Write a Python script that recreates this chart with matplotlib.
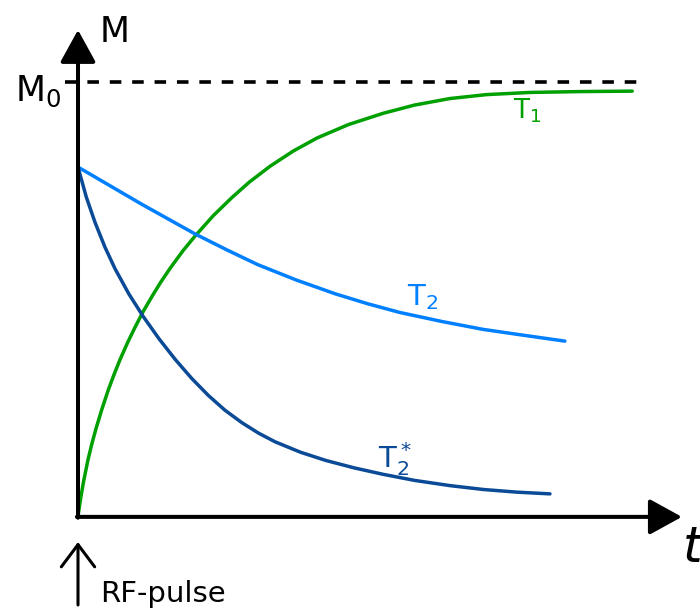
import matplotlib.pyplot as plt
import numpy as np

plt.rcParams['mathtext.fontset'] = 'dejavusans'
plt.rcParams['font.family'] = 'DejaVu Sans'

# relaxation curves, M in units of M0, time in arbitrary units
t_T1 = [0.00, 0.05, 0.10, 0.18, 0.25, 0.33, 0.43, 0.55, 0.65, 0.76, 0.90, 1.03,
        1.18, 1.35, 1.50, 1.67, 1.90, 2.12, 2.45, 2.79, 3.10, 3.48, 3.90, 4.33,
        4.90, 5.53, 6.10, 6.74, 7.40, 8.19, 9.10, 10.04]
M_T1 = [0.000, 0.042, 0.079, 0.129, 0.166, 0.203, 0.245, 0.291, 0.325, 0.360, 0.400, 0.434,
        0.471, 0.508, 0.539, 0.571, 0.611, 0.645, 0.692, 0.734, 0.769, 0.806, 0.841, 0.871,
        0.902, 0.928, 0.947, 0.962, 0.971, 0.976, 0.978, 0.979]

t_T2 = [0.00, 0.58, 1.16, 1.64, 2.12, 2.70, 3.26, 3.95, 4.66, 5.25, 5.83, 6.60, 7.34, 8.10, 8.82]
M_T2 = [0.804, 0.761, 0.718, 0.684, 0.650, 0.613, 0.579, 0.544, 0.512, 0.489, 0.469, 0.448,
        0.430, 0.416, 0.403]

t_T2s = [0.00, 0.15, 0.31, 0.49, 0.67, 0.92, 1.18, 1.47, 1.76, 2.06, 2.36, 2.66, 2.97,
         3.27, 3.57, 4.03, 4.49, 5.00, 5.53, 6.10, 6.74, 7.35, 7.95, 8.25, 8.55]
M_T2s = [0.804, 0.735, 0.676, 0.619, 0.570, 0.512, 0.460, 0.408, 0.361, 0.317, 0.278, 0.244, 0.215,
         0.191, 0.171, 0.147, 0.128, 0.111, 0.096, 0.082, 0.070, 0.061, 0.055, 0.053, 0.051]

M0 = 1.0

green = '#00a000'
light_blue = '#0080ff'
dark_blue = '#0a4a96'

fig = plt.figure(figsize=(7, 6.16), dpi=100)
ax = fig.add_axes([0, 0, 1, 1])
ax.set_xlim(-1.413, 11.268)
ax.set_ylim(-0.2304, 1.189)
ax.axis('off')

# curves
ax.plot(t_T1, M_T1, color=green, lw=2.5, solid_capstyle='round', solid_joinstyle='round', zorder=2)
ax.plot(t_T2, M_T2, color=light_blue, lw=2.5, solid_capstyle='round', solid_joinstyle='round', zorder=3)
ax.plot(t_T2s, M_T2s, color=dark_blue, lw=2.5, solid_capstyle='round', solid_joinstyle='round', zorder=4)

# M0 level
ax.plot([-0.235, 10.235], [M0, M0], color='black', lw=2.6,
        linestyle=(0, (3.2, 3.0)), zorder=1)

# axes with arrow heads
ax.annotate('', xy=(0, 1.12), xytext=(0, -0.004),
            arrowprops=dict(arrowstyle='-|>,head_length=1.0,head_width=0.55',
                            lw=2.9, color='black', mutation_scale=20,
                            shrinkA=0, shrinkB=0), zorder=5)
ax.annotate('', xy=(10.94, -0.002), xytext=(-0.02, -0.002),
            arrowprops=dict(arrowstyle='-|>,head_length=1.0,head_width=0.55',
                            lw=2.9, color='black', mutation_scale=20,
                            shrinkA=0, shrinkB=0), zorder=5)

# RF pulse marker
ax.annotate('', xy=(0, -0.060), xytext=(0, -0.205),
            arrowprops=dict(arrowstyle='->,head_length=0.8,head_width=0.6',
                            lw=2.2, color='black', mutation_scale=20,
                            shrinkA=0, shrinkB=0))

# labels
ax.text(0.40, 1.092, 'M', fontsize=25, ha='left', va='baseline')
ax.text(-1.14, 0.956, r'$\mathrm{M}_0$', fontsize=25, ha='left', va='baseline')
ax.text(10.96, -0.106, 't', fontsize=36, style='italic', ha='left', va='baseline')
ax.text(0.40, -0.198, 'RF-pulse', fontsize=21, ha='left', va='baseline')

ax.text(7.88, 0.917, r'$\mathrm{T}_1$', fontsize=19, color=green, ha='left', va='baseline')
ax.text(5.96, 0.486, r'$\mathrm{T}_2$', fontsize=21, color=light_blue, ha='left', va='baseline')
ax.text(5.43, 0.111, r'$\mathrm{T}_2^*$', fontsize=21, color=dark_blue, ha='left', va='baseline')

fig.savefig('out.png', dpi=100)
